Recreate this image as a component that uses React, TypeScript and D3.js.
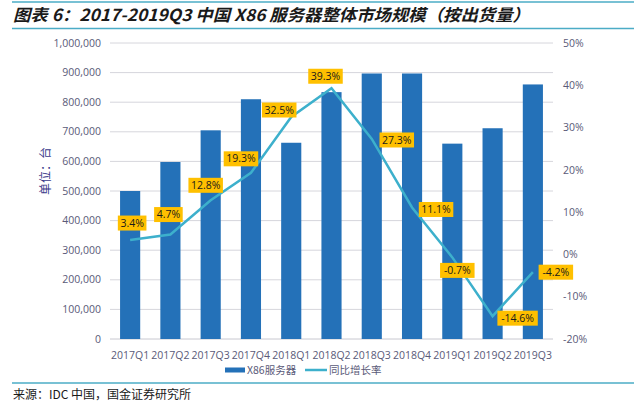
import React from "react";
import * as d3 from "d3";

const categories = ["2017Q1","2017Q2","2017Q3","2017Q4","2018Q1","2018Q2","2018Q3","2018Q4","2019Q1","2019Q2","2019Q3"];
const shipments = [500000, 598000, 705000, 810000, 663000, 834000, 897000, 897000, 660000, 712000, 860000];
const growth = [3.4, 4.7, 12.8, 19.3, 32.5, 39.3, 27.3, 11.1, -0.7, -14.6, -4.2];
const leftTicks = [0,100000,200000,300000,400000,500000,600000,700000,800000,900000,1000000];
const rightTicks = [-20,-10,0,10,20,30,40,50];

// label placement offsets relative to each line point (layout only)
const labelOffsets: [number, number][] = [
  [2,-17],[-2,-20],[-5,-15],[-10,-14],[-12,-7],[-6,-12],[25,1],[24,2],[5,13],[25,2],[23,0]
];

const W = 640, H = 411;
const plot = { left: 110, right: 553, top: 43, bottom: 339 };

export default function App() {
  const x = d3.scaleBand<string>().domain(categories).range([plot.left, plot.right]).paddingInner(0.5).paddingOuter(0.25);
  const yL = d3.scaleLinear().domain([0, 1000000]).range([plot.bottom, plot.top]);
  const yR = d3.scaleLinear().domain([-20, 50]).range([plot.bottom, plot.top]);
  const fmt = d3.format(",");
  const cx = (c: string) => (x(c) ?? 0) + x.bandwidth() / 2;
  const line = d3.line<number>().x((_, i) => cx(categories[i])).y(v => yR(v));
  const font = "'Segoe UI', 'Open Sans', 'Noto Sans CJK SC', sans-serif";
  const cjk = "'Noto Sans CJK SC', sans-serif";
  const tickColor = "#5a5a78";

  return (
    <div style={{ position: "absolute", left: 0, top: 0 }}>
      <svg width={W} height={H} style={{ display: "block", background: "#fff" }}>
        <line x1={12} x2={634} y1={2} y2={2} stroke="#4bacc6" strokeWidth={1.5} />
        <text x={13} y={21} fontFamily={cjk} fontSize={16.5} fontWeight="bold" fontStyle="italic" fill="#1a1a1a" textLength={517} lengthAdjust="spacingAndGlyphs">
          图表 6：2017-2019Q3 中国 X86 服务器整体市场规模（按出货量）
        </text>
        <line x1={12} x2={634} y1={28.5} y2={28.5} stroke="#4bacc6" strokeWidth={1.5} />

        {leftTicks.map(t => (
          <g key={t}>
            <line x1={plot.left} x2={plot.right} y1={yL(t)} y2={yL(t)} stroke={t === 0 ? "#c8c8d0" : "#d6d6dc"} strokeWidth={1} />
            <text x={101} y={yL(t)} dy="0.35em" textAnchor="end" fontFamily={font} fontSize={10.5} fill={tickColor}>{fmt(t)}</text>
          </g>
        ))}
        {rightTicks.map(t => (
          <text key={t} x={563} y={yR(t)} dy="0.35em" textAnchor="start" fontFamily={font} fontSize={10.5} fill={tickColor}>{t}%</text>
        ))}
        <text transform={`translate(46,${(plot.top + plot.bottom) / 2 - 20}) rotate(-90)`} textAnchor="middle" dy="0.35em" fontFamily={cjk} fontSize={12} fill="#3a3a8a">单位：台</text>

        {categories.map((c, i) => (
          <rect key={c} x={x(c)} y={yL(shipments[i])} width={x.bandwidth()} height={plot.bottom - yL(shipments[i])} fill="#2471b8" />
        ))}
        {categories.map(c => (
          <text key={c} x={cx(c)} y={355} dy="0.35em" textAnchor="middle" fontFamily={font} fontSize={10.5} fill={tickColor}>{c}</text>
        ))}

        <path d={line(growth) ?? ""} fill="none" stroke="#3db0cc" strokeWidth={2.5} />

        {growth.map((g, i) => {
          const px = cx(categories[i]) + labelOffsets[i][0];
          const py = yR(g) + labelOffsets[i][1];
          const label = `${g.toFixed(1)}%`;
          const w = label.length * 5.9 + 5;
          return (
            <g key={i}>
              <rect x={px - w / 2} y={py - 7.5} width={w} height={15} fill="#ffc000" />
              <text x={px} y={py} dy="0.35em" textAnchor="middle" fontFamily={font} fontSize={10.5} fill="#1a1a1a">{label}</text>
            </g>
          );
        })}

        <rect x={225} y={367.5} width={20} height={5} fill="#2471b8" />
        <text x={247} y={370} dy="0.35em" fontFamily={cjk} fontSize={10.5} fill={tickColor}>X86服务器</text>
        <line x1={305} x2={327} y1={370} y2={370} stroke="#3db0cc" strokeWidth={2.5} />
        <text x={329} y={370} dy="0.35em" fontFamily={cjk} fontSize={10.5} fill={tickColor}>同比增长率</text>

        <line x1={12} x2={634} y1={383} y2={383} stroke="#4bacc6" strokeWidth={1.5} />
        <text x={13} y={399} fontFamily={cjk} fontSize={12} fill="#1a1a1a">来源：IDC 中国，国金证券研究所</text>
      </svg>
    </div>
  );
}
